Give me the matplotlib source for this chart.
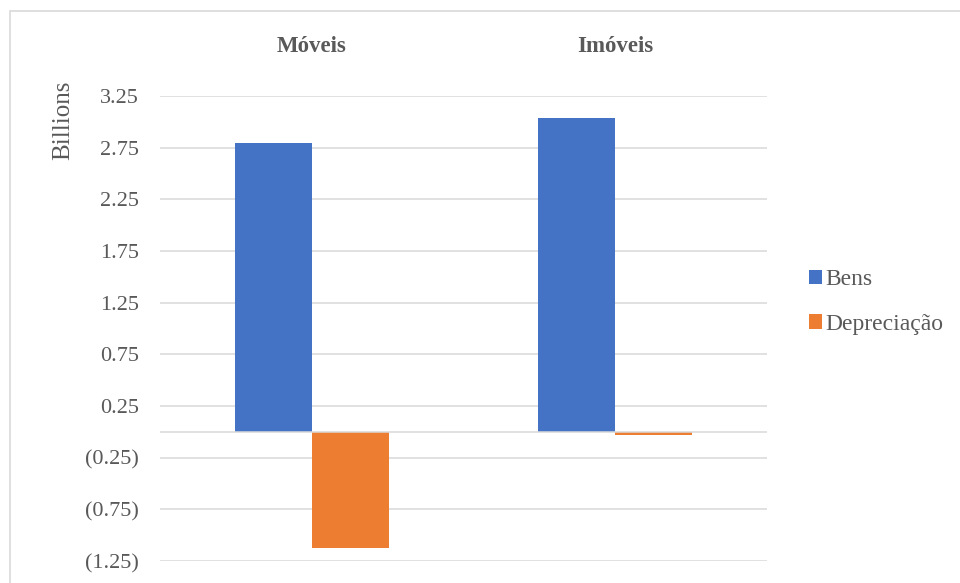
import matplotlib.pyplot as plt
import matplotlib.patches as patches
from matplotlib.ticker import FuncFormatter

# data (billions)
categories = ['Móveis', 'Imóveis']
bens = [2.80, 3.04]
depreciacao = [-1.12, -0.03]
y_ticks = [-1.25, -0.75, -0.25, 0.25, 0.75, 1.25, 1.75, 2.25, 2.75, 3.25]

BLUE = '#4472C4'
ORANGE = '#ED7D31'
GRID = '#D9D9D9'
TEXT = '#595959'

plt.rcParams['font.family'] = ['Liberation Serif', 'DejaVu Serif']


def fmt(v, pos):
    if v < 0:
        return f"({abs(v):.2f})"
    return f"{v:.2f}"


if __name__ == "__main__":
    fig = plt.figure(figsize=(9.6, 5.83), dpi=100)
    ax = fig.add_axes([160 / 960, 1 - 561 / 583, 607 / 960, 465 / 583])

    x = list(range(len(categories)))
    w = 0.254
    ax.bar([i - w / 2 for i in x], bens, width=w, color=BLUE, label='Bens', zorder=2)
    ax.bar([i + w / 2 for i in x], depreciacao, width=w, color=ORANGE, label='Depreciação', zorder=2)

    ax.set_xlim(-0.5, len(categories) - 0.5)
    ax.set_ylim(-1.25, 3.25)
    ax.set_yticks(y_ticks)
    ax.yaxis.set_major_formatter(FuncFormatter(fmt))
    ax.grid(axis='y', color=GRID, linewidth=1.1, zorder=0)
    ax.axhline(0, color=GRID, linewidth=1.1, zorder=3)

    ax.set_xticks(x)
    ax.set_xticklabels(categories, fontweight='bold', fontsize=16.5, color=TEXT)
    ax.xaxis.tick_top()
    ax.tick_params(axis='x', length=0, pad=28)
    ax.tick_params(axis='y', length=0, pad=15, labelsize=16, labelcolor=TEXT)
    for s in ax.spines.values():
        s.set_visible(False)

    fig.text(63 / 960, 1 - 120 / 583, 'Billions', rotation=90, ha='center', va='center',
             fontsize=18, color=TEXT)

    fig.legend(loc='center left', bbox_to_anchor=(788 / 960, 1 - 302 / 583), frameon=False,
               fontsize=17, labelcolor=TEXT, handlelength=0.55, handleheight=0.55,
               handletextpad=0.15, labelspacing=1.0)

    # chart-area border like Excel
    fig.patches.append(patches.Rectangle((10 / 960, -0.05), 1.0, 1 - 11 / 583 + 0.05,
                                         transform=fig.transFigure, fill=False,
                                         edgecolor=GRID, linewidth=1.2))

    plt.savefig('out.png', dpi=100)
